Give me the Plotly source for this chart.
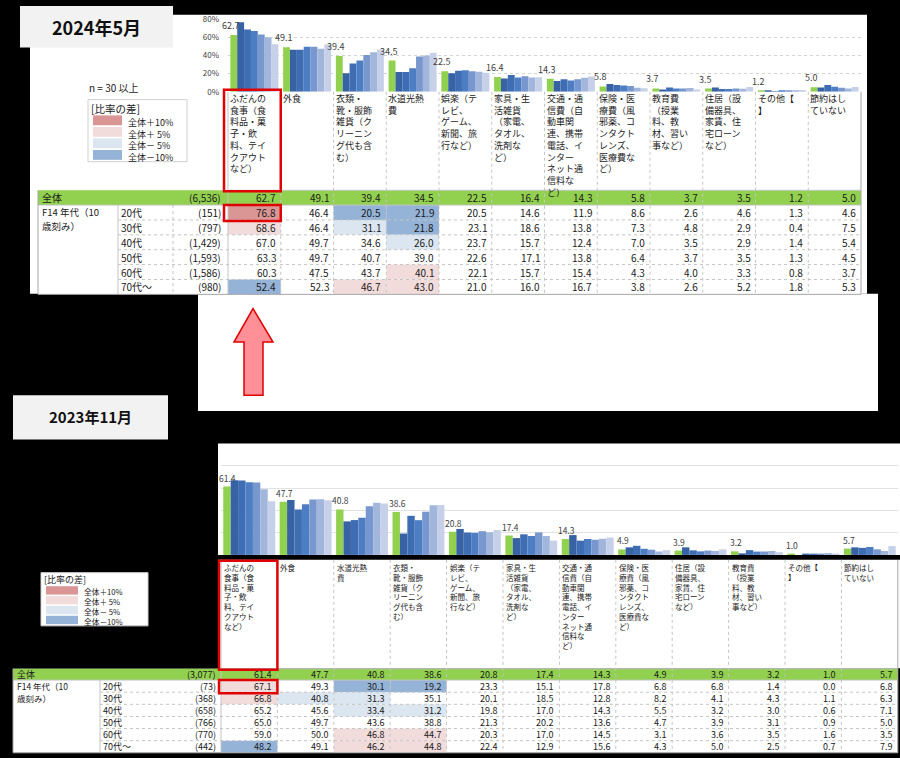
import plotly.graph_objects as go

W, H = 900, 758
FONT = "Noto Sans CJK JP, Noto Sans, sans-serif"

# ------------------------------------------------------------------ data
groups = ["全体", "20代", "30代", "40代", "50代", "60代", "70代～"]
y_ticks_2024 = [0, 20, 40, 60, 80]

# ---- 2024年5月
headers_2024 = [
    "ふだんの\n食事（食\n料品・菓\n子・飲\n料、テイ\nクアウト\nなど）",
    "外食",
    "衣類・\n靴・服飾\n雑貨（ク\nリーニン\nグ代も含\nむ）",
    "水道光熱\n費",
    "娯楽（テ\nレビ、\nゲーム、\n新聞、旅\n行など）",
    "家具・生\n活雑貨\n（家電、\nタオル、\n洗剤な\nど）",
    "交通・通\n信費（自\n動車関\n連、携帯\n電話、イ\nンター\nネット通\n信料な\nど）",
    "保険・医\n療費（風\n邪薬、コ\nンタクト\nレンズ、\n医療費な\nど）",
    "教育費\n（授業\n料、教\n材、習い\n事など）",
    "住居（設\n備器具、\n家賃、住\n宅ローン\nなど）",
    "その他【\n】",
    "節約はし\nていない",
]
n_2024 = ["(6,536)", "(151)", "(797)", "(1,429)", "(1,593)", "(1,586)", "(980)"]
total_2024 = [62.7, 49.1, 39.4, 34.5, 22.5, 16.4, 14.3, 5.8, 3.7, 3.5, 1.2, 5.0]
age20_2024 = [76.8, 46.4, 20.5, 21.9, 20.5, 14.6, 11.9, 8.6, 2.6, 4.6, 1.3, 4.6]
age30_2024 = [68.6, 46.4, 31.1, 21.8, 23.1, 18.6, 13.8, 7.3, 4.8, 2.9, 0.4, 7.5]
age40_2024 = [67.0, 49.7, 34.6, 26.0, 23.7, 15.7, 12.4, 7.0, 3.5, 2.9, 1.4, 5.4]
age50_2024 = [63.3, 49.7, 40.7, 39.0, 22.6, 17.1, 13.8, 6.4, 3.7, 3.5, 1.3, 4.5]
age60_2024 = [60.3, 47.5, 43.7, 40.1, 22.1, 15.7, 15.4, 4.3, 4.0, 3.3, 0.8, 3.7]
age70_2024 = [52.4, 52.3, 46.7, 43.0, 21.0, 16.0, 16.7, 3.8, 2.6, 5.2, 1.8, 5.3]

# ---- 2023年11月
headers_2023 = [
    "ふだんの\n食事（食\n料品・菓\n子・飲\n料、テイ\nクアウト\nなど）",
    "外食",
    "水道光熱\n費",
    "衣類・\n靴・服飾\n雑貨（ク\nリーニン\nグ代も含\nむ）",
    "娯楽（テ\nレビ、\nゲーム、\n新聞、旅\n行など）",
    "家具・生\n活雑貨\n（家電、\nタオル、\n洗剤な\nど）",
    "交通・通\n信費（自\n動車関\n連、携帯\n電話、イ\nンター\nネット通\n信料な\nど）",
    "保険・医\n療費（風\n邪薬、コ\nンタクト\nレンズ、\n医療費な\nど）",
    "住居（設\n備器具、\n家賃、住\n宅ローン\nなど）",
    "教育費\n（授業\n料、教\n材、習い\n事など）",
    "その他【\n】",
    "節約はし\nていない",
]
n_2023 = ["(3,077)", "(73)", "(368)", "(658)", "(766)", "(770)", "(442)"]
total_2023 = [61.4, 47.7, 40.8, 38.6, 20.8, 17.4, 14.3, 4.9, 3.9, 3.2, 1.0, 5.7]
age20_2023 = [67.1, 49.3, 30.1, 19.2, 23.3, 15.1, 17.8, 6.8, 6.8, 1.4, 0.0, 6.8]
age30_2023 = [66.8, 40.8, 31.3, 35.1, 20.1, 18.5, 12.8, 8.2, 4.1, 4.3, 1.1, 6.3]
age40_2023 = [65.2, 45.6, 33.4, 31.2, 19.8, 17.0, 14.3, 5.5, 3.2, 3.0, 0.6, 7.1]
age50_2023 = [65.0, 49.7, 43.6, 38.8, 21.3, 20.2, 13.6, 4.7, 3.9, 3.1, 0.9, 5.0]
age60_2023 = [59.0, 50.0, 46.8, 44.7, 20.3, 17.0, 14.5, 3.1, 3.6, 3.5, 1.6, 3.5]
age70_2023 = [48.2, 49.1, 46.2, 44.8, 22.4, 12.9, 15.6, 4.3, 5.0, 2.5, 0.7, 7.9]

legend_labels = ["全体＋10%", "全体＋ 5%", "全体－ 5%", "全体－10%"]

# ------------------------------------------------------------------ styles
BAR_COLORS = ["#92d050", "#3762a3", "#3f6db3", "#4d7ec3", "#7797ce", "#a2b6dc", "#c6d1e9"]
C_P10, C_P5, C_M5, C_M10 = "#da9694", "#f2dcdb", "#dce6f1", "#95b3d7"
GREEN_ROW = "#92d050"
GRID = "#c4c4c4"
OUTER = "#a6a6a6"
RED = "#e00000"

shapes, anns = [], []


def X(x):
    return x / W


def Y(y):
    return 1 - y / H


def rect(x0, y0, x1, y1, fill=None, lc=None, lw=0, layer="below"):
    shapes.append(dict(type="rect", xref="paper", yref="paper",
                       x0=X(x0), x1=X(x1), y0=Y(y1), y1=Y(y0),
                       fillcolor=fill or "rgba(0,0,0,0)",
                       line=dict(color=lc or "rgba(0,0,0,0)", width=lw),
                       layer=layer))


def hline(x0, x1, y, color=GRID, dash="dot", width=1):
    shapes.append(dict(type="line", xref="paper", yref="paper",
                       x0=X(x0), x1=X(x1), y0=Y(y), y1=Y(y),
                       line=dict(color=color, width=width, dash=dash), layer="below"))


def vline(x, y0, y1, color=GRID, dash="dot", width=1):
    shapes.append(dict(type="line", xref="paper", yref="paper",
                       x0=X(x), x1=X(x), y0=Y(y0), y1=Y(y1),
                       line=dict(color=color, width=width, dash=dash), layer="below"))


def text(x, y, s, size, color="#1a1a1a", xanchor="left", yanchor="middle", align="left"):
    anns.append(dict(xref="paper", yref="paper", x=X(x), y=Y(y), text=s,
                     showarrow=False, xanchor=xanchor, yanchor=yanchor, align=align,
                     borderpad=0, font=dict(size=size, color=color, family=FONT)))


def diff_color(v, t):
    d = v - t
    if d >= 10:
        return C_P10
    if d >= 5:
        return C_P5
    if d <= -10:
        return C_M10
    if d <= -5:
        return C_M5
    return None


# ------------------------------------------------------------------ background panels
rect(30, 9, 867, 292, fill="white")
rect(20, 0, 173, 42, fill="#f2f2f2")
text(96, 21, "<b>2024年5月</b>", 18, color="#111", xanchor="center")
rect(198, 292, 878, 411, fill="white")
rect(13, 395, 168, 440, fill="#f2f2f2")
text(90, 417, "<b>2023年11月</b>", 15, color="#111", xanchor="center")
rect(218, 444, 900, 557, fill="white")
rect(218, 562, 900, 672, fill="white")

# arrow
ax = [253, 273, 263, 263, 244, 244, 234]
ay = [307, 341, 341, 395, 395, 341, 341]
path = "M " + " L ".join(f"{X(a)},{Y(b)}" for a, b in zip(ax, ay)) + " Z"
shapes.append(dict(type="path", xref="paper", yref="paper", path=path,
                   fillcolor="#ff9097", line=dict(color=RED, width=1.5), layer="above"))


# ------------------------------------------------------------------ table builder
def build_table(g, headers, n_list, rows):
    col0, colw, ncol = g["col0"], g["colw"], len(headers)
    right = col0 + colw * ncol
    rb = [g["head_bot"], g["head_bot"] + g["total_h"]]
    for _ in range(len(rows) - 1):
        rb.append(rb[-1] + g["row_h"])
    bottom = rb[-1]
    rect(g["left"], rb[0], right, bottom, fill="white")
    rect(g["left"], rb[0], right, rb[1], fill=GREEN_ROW)
    total = rows[0]
    for r in range(1, len(rows)):
        for c in range(ncol):
            col = diff_color(rows[r][c], total[c])
            if col:
                rect(col0 + c * colw, rb[r], col0 + (c + 1) * colw, rb[r + 1], fill=col)
    for r in range(2, len(rows)):
        hline(g["lab_r"], right, rb[r])
    hline(col0, right, rb[0], color=GRID, dash="solid")
    hline(g["left"], right, rb[1], color=GRID, dash="solid")
    for c in range(1, ncol):
        vline(col0 + c * colw, g["head_top"], bottom)
    vline(col0, g["head_top"], bottom, color=GRID, dash="solid")
    vline(right, g["head_top"], bottom, color=OUTER, dash="solid")
    vline(g["lab_r"], rb[1], bottom, color=GRID, dash="solid")
    if g.get("age_r"):
        vline(g["age_r"], rb[1], bottom)
    vline(g["left"], rb[0], bottom, color=OUTER, dash="solid")
    hline(g["left"], right, bottom, color=OUTER, dash="solid")
    # header labels (one multi-line text per column)
    for c, h in enumerate(headers):
        text(col0 + c * colw + g["head_pad"], g["head_text_top"], h.replace("\n", "<br>"),
             g["head_font"], yanchor="top")
    fs = g["num_font"]
    text(g["left"] + 3, (rb[0] + rb[1]) / 2, groups[0], fs)
    text(g["left"] + 3, rb[1] + g["lab_gap"] * 0.5, "F14 年代（10", g["lab_font"])
    text(g["left"] + 3, rb[1] + g["lab_gap"] * 1.5, "歳刻み）", g["lab_font"])
    for r in range(len(rows)):
        cy = (rb[r] + rb[r + 1]) / 2
        if r > 0:
            text(g["lab_r"] + 2, cy, groups[r], fs)
        text(g["n_r"], cy, n_list[r], fs, xanchor="right")
        for c in range(ncol):
            text(col0 + (c + 1) * colw - g["num_pad"], cy, f"{rows[r][c]:.1f}", fs,
                 xanchor="right")
    rect(col0 - g["red_l"], g["head_top"] + g["red_t"], col0 + colw, rb[0] + 1,
         lc=RED, lw=2.5, layer="above")
    rect(col0 - g["red_l"], rb[1], col0 + colw, rb[2] + 1, lc=RED, lw=2.5, layer="above")


def build_legend(g):
    rect(g["bx0"], g["by0"], g["bx1"], g["by1"], fill="white", lc="#cfcfcf", lw=1)
    text(g["x"], g["y0"], "[比率の差]", g["tfs"])
    for i, col in enumerate([C_P10, C_P5, C_M5, C_M10]):
        cy = g["sw_y"] + i * g["sw_step"]
        rect(g["sw_x0"], cy - g["sw_h"] / 2, g["sw_x1"], cy + g["sw_h"] / 2, fill=col)
    text(g["sw_x1"] + 5, g["sw_y"] - g["sw_step"] / 2, "<br>".join(legend_labels), g["fs"],
         yanchor="top")


rows_2024 = [total_2024, age20_2024, age30_2024, age40_2024, age50_2024, age60_2024, age70_2024]
rows_2023 = [total_2023, age20_2023, age30_2023, age40_2023, age50_2023, age60_2023, age70_2023]

top_geo = dict(left=38, lab_r=118, age_r=173, n_r=222, col0=228, colw=52.75,
               head_top=87, head_bot=187, total_h=15, row_h=15.1,
               head_font=9, head_text_top=86.5, head_pad=1,
               num_font=10, lab_font=9.5, lab_gap=14, num_pad=4, red_l=4, red_t=-2)
bot_geo = dict(left=13, lab_r=100, age_r=None, n_r=217, col0=221, colw=56.4,
               head_top=562, head_bot=672.5, total_h=11.5, row_h=12.3,
               head_font=7.5, head_text_top=563, head_pad=2,
               num_font=9, lab_font=8.5, lab_gap=12.3, num_pad=4, red_l=2, red_t=1)

build_table(top_geo, headers_2024, n_2024, rows_2024)
build_table(bot_geo, headers_2023, n_2023, rows_2023)

text(88, 83, "n = 30 以上", 10)
build_legend(dict(x=90, y0=104, tfs=10.5, fs=9, sw_x0=93, sw_x1=122, sw_y=116, sw_step=11.7,
                  sw_h=10, bx0=88, by0=95, bx1=187, by1=158))
build_legend(dict(x=43, y0=582, tfs=9, fs=7.7, sw_x0=46, sw_x1=78, sw_y=593, sw_step=10,
                  sw_h=8.5, bx0=41, by0=575, bx1=148, by1=629))

# ------------------------------------------------------------------ bars
fig = go.Figure()


def add_bars(headers, rows, xa, ya, fill, tsize, colw, nudge):
    cats = [h.replace("\n", "") for h in headers]
    w = fill / len(rows)
    for k in range(len(rows)):
        fig.add_trace(go.Bar(x=cats, y=rows[k], width=w, offset=-fill / 2 + k * w,
                             marker=dict(color=BAR_COLORS[k], line=dict(width=0)),
                             xaxis=xa, yaxis=ya, showlegend=False, name=groups[k],
                             hoverinfo="skip"))
    # value labels of the total series, centred over the green bar
    green_shift = (-fill / 2 + w / 2) * colw + nudge
    for cat, v in zip(cats, rows[0]):
        anns.append(dict(xref=xa, yref=ya, x=cat, y=v, text=f"{v:.1f}", showarrow=False,
                         xanchor="center", yanchor="bottom", xshift=green_shift, yshift=2,
                         borderpad=0, font=dict(size=tsize, color="#404040", family=FONT)))


add_bars(headers_2024, rows_2024, "x", "y", 0.91, 9, 52.75, -3)
add_bars(headers_2023, rows_2023, "x2", "y2", 0.92, 8.5, 56.4, 1)

fig.update_layout(
    width=W, height=H, margin=dict(l=0, r=0, t=0, b=0),
    paper_bgcolor="black", plot_bgcolor="rgba(0,0,0,0)",
    barmode="overlay", showlegend=False,
    font=dict(family=FONT),
    xaxis=dict(domain=[X(228), X(861)], range=[-0.5, 11.5], showticklabels=False,
               showgrid=False, zeroline=False, showline=False, ticks="", anchor="y"),
    yaxis=dict(domain=[Y(87), Y(13.5)], range=[0, 80], tickvals=y_ticks_2024,
               ticktext=[f"{v}%" for v in y_ticks_2024],
               tickfont=dict(size=8, color="#404040"),
               gridcolor="#d4d4d4", griddash="dot", zeroline=False, showline=False,
               ticks="", ticklabelstandoff=8, anchor="x"),
    xaxis2=dict(domain=[X(221), X(898)], range=[-0.5, 11.5], showticklabels=False,
                showgrid=False, zeroline=False, showline=False, ticks="", anchor="y2"),
    yaxis2=dict(domain=[Y(557), Y(444)], range=[0, 100], tickvals=[20, 40, 60, 80],
                showticklabels=False, gridcolor="#e2e2e2", zeroline=False,
                showline=False, ticks="", anchor="x2"),
    shapes=shapes, annotations=anns,
)

fig.write_html("out.html", config={"displayModeBar": False},
               post_script="document.body.style.margin='0';document.body.style.background='black';")
